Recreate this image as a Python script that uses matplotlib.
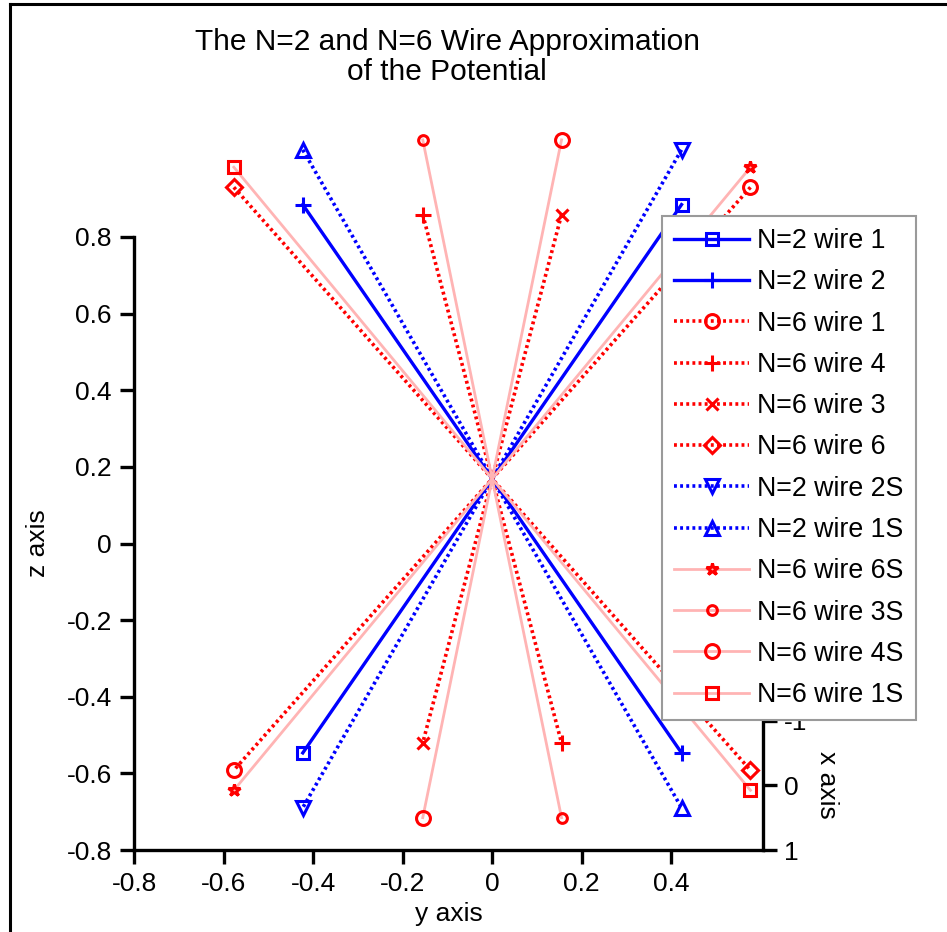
import numpy as np
import matplotlib
matplotlib.use("Agg")
import matplotlib.pyplot as plt
from matplotlib.lines import Line2D

plt.rcParams["font.family"] = ["Liberation Sans", "DejaVu Sans"]

# Upper end point (x, y, z) of each wire; every wire runs through the origin
# to the opposite point (-x, -y, -z).
labels = ["N=2 wire 1", "N=2 wire 2", "N=6 wire 1", "N=6 wire 4", "N=6 wire 3",
          "N=6 wire 6", "N=2 wire 2S", "N=2 wire 1S", "N=6 wire 6S", "N=6 wire 3S",
          "N=6 wire 4S", "N=6 wire 1S"]
x_end = [0.423, 0.423, 0.155, 0.577, 0.577, 0.155,
         -0.423, -0.423, -0.155, -0.577, -0.577, -0.155]
y_end = [0.423, -0.423, 0.577, -0.155, 0.155, -0.577,
         0.423, -0.423, 0.577, -0.155, 0.155, -0.577]
z_end = [0.787] * 12

# Oblique view: depth (x) shifts points vertically; ticks of z sit on the x = 1 plane
K = 0.169


def project(x, y, z):
    x, y, z = map(np.asarray, (x, y, z))
    return y, z + K * (1.0 - x)


BLUE = "#0000FF"
RED = "#FF0000"
PINK = "#FFB4B4"
DOT = (0, (0.8, 0.9))

styles = [
    dict(color=BLUE, ls="-", lw=2.4, marker="s", ms=9, mec=BLUE),
    dict(color=BLUE, ls="-", lw=2.4, marker="+", ms=11, mec=BLUE),
    dict(color=RED, ls=DOT, lw=2.6, marker="o", ms=10, mec=RED),
    dict(color=RED, ls=DOT, lw=2.6, marker="+", ms=11, mec=RED),
    dict(color=RED, ls=DOT, lw=2.6, marker="x", ms=8, mec=RED),
    dict(color=RED, ls=DOT, lw=2.6, marker="D", ms=8, mec=RED),
    dict(color=BLUE, ls=DOT, lw=2.6, marker="v", ms=10, mec=BLUE),
    dict(color=BLUE, ls=DOT, lw=2.6, marker="^", ms=10, mec=BLUE),
    dict(color=PINK, ls="-", lw=2.0, marker="*", ms=9, mec=RED),
    dict(color=PINK, ls="-", lw=2.0, marker="o", ms=7, mec=RED),
    dict(color=PINK, ls="-", lw=2.0, marker="o", ms=10, mec=RED),
    dict(color=PINK, ls="-", lw=2.0, marker="s", ms=9, mec=RED),
]

FS = 19
W, H = 947, 932
fig = plt.figure(figsize=(W / 100, H / 100), dpi=100)

ax_l, ax_r, ax_t, ax_b = 134, 763, 237, 850
ax = fig.add_axes([ax_l / W, 1 - ax_b / H, (ax_r - ax_l) / W, (ax_b - ax_t) / H])
ax.set_xlim(-0.8, 0.605)
ax.set_ylim(-0.8, 0.8)

handles = []
for lab, xe, ye, ze, st in zip(labels, x_end, y_end, z_end, styles):
    py, pz = project([xe, -xe], [ye, -ye], [ze, -ze])
    ln, = ax.plot(py, pz, color=st["color"], linestyle=st["ls"], linewidth=st["lw"],
                  marker=st["marker"], markersize=st["ms"], markeredgecolor=st["mec"],
                  markerfacecolor="none", markeredgewidth=2.2, clip_on=False,
                  dash_capstyle="butt", label=lab)
    handles.append(ln)

for s in ("top", "right"):
    ax.spines[s].set_visible(False)
for s in ("left", "bottom"):
    ax.spines[s].set_linewidth(2.4)
ax.set_xticks([-0.8, -0.6, -0.4, -0.2, 0, 0.2, 0.4])
ax.set_xticklabels(["-0.8", "-0.6", "-0.4", "-0.2", "0", "0.2", "0.4"])
ax.set_yticks([-0.8, -0.6, -0.4, -0.2, 0, 0.2, 0.4, 0.6, 0.8])
ax.set_yticklabels(["-0.8", "-0.6", "-0.4", "-0.2", "0", "0.2", "0.4", "0.6", "0.8"])
ax.tick_params(direction="out", length=10, width=2.4, labelsize=FS, pad=6)
ax.set_xlabel("y axis", fontsize=FS, labelpad=4)
ax.set_ylabel("z axis", fontsize=FS, labelpad=12)

# Depth (x) axis on the right edge
x_lo, x_hi = -1.0, 1.0
_, v_top = project(x_lo, 0, -0.8)
_, v_bot = project(x_hi, 0, -0.8)
axx = ax.inset_axes([0.605, float(v_bot), 0.0005, float(v_top - v_bot)],
                    transform=ax.transData)
axx.patch.set_visible(False)
axx.set_ylim(x_hi, x_lo)
for s in ("top", "left", "bottom"):
    axx.spines[s].set_visible(False)
axx.spines["right"].set_linewidth(2.4)
axx.set_xticks([])
axx.yaxis.tick_right()
axx.set_yticks([-1, 0, 1])
axx.set_yticklabels(["-1", "0", "1"])
axx.tick_params(direction="out", length=10, width=2.4, labelsize=FS, pad=5)
axx.yaxis.set_label_position("right")
axx.set_ylabel("x axis", fontsize=FS, rotation=270, labelpad=23)

fig.text(447 / W, 1 - 57 / H, "The N=2 and N=6 Wire Approximation\nof the Potential",
         ha="center", va="center", fontsize=21.5, linespacing=1.08)

leg = fig.legend(handles=handles, loc="upper left",
                 bbox_to_anchor=(662 / W, 1 - 216 / H), borderaxespad=0,
                 fontsize=19.3, handlelength=2.8, handletextpad=0.3,
                 labelspacing=0.57, borderpad=0.45, fancybox=False, framealpha=1)
leg.get_frame().set_edgecolor("#9a9a9a")
leg.get_frame().set_linewidth(1.5)

# Outer frame along the top and left edges
fig.add_artist(Line2D([10 / W, 10 / W], [0, 1 - 4 / H], color="black", lw=2.2,
                      transform=fig.transFigure))
fig.add_artist(Line2D([10 / W, 1], [1 - 4 / H, 1 - 4 / H], color="black", lw=2.2,
                      transform=fig.transFigure))

fig.savefig("out.png", dpi=100)
